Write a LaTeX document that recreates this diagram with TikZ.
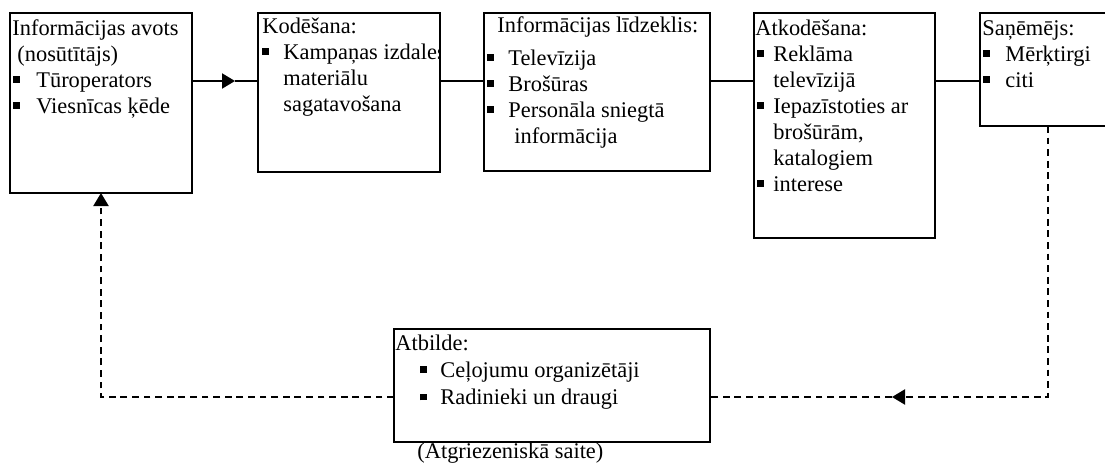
\documentclass[tikz,border=0pt]{standalone}
\usepackage{fontspec}
\setmainfont{Liberation Serif}
\usetikzlibrary{arrows.meta, calc, positioning}
\newcommand{\sqb}[1][10.5pt]{\makebox[#1][l]{\rule[2.2pt]{3.3pt}{3.3pt}}}

\begin{document}
\begin{tikzpicture}[x=0.5pt,y=-0.5pt,
  blok/.style={draw,line width=1pt,inner sep=0pt,outer sep=0pt},
  teksts/.style={anchor=base west,inner sep=0pt,font=\fontsize{11.2}{13}\selectfont},
  savieno/.style={line width=1pt},
  atgr/.style={line width=1pt,dash pattern=on 3.4pt off 2.4pt},
  >={Triangle[length=6.5pt,width=7.5pt]}]
  \useasboundingbox (0,0) rectangle (1105,467);
  \coordinate (flow) at (0,81);
  \coordinate (fb) at (0,397);
  \coordinate (flowtip) at (235,81);
  \coordinate (fbtip) at (892,397);
%---------------------------------------------------------------
  \node[blok,minimum width=91pt,minimum height=90pt] (avots) at (101,103) {};
  \node[blok,minimum width=91pt,minimum height=79.5pt] (kod) at (349,92.5) {};
  \node[blok,minimum width=113pt,minimum height=79pt] (lidz) at (597,92) {};
  \node[blok,minimum width=90.5pt,minimum height=112.5pt] (atkod) at (844.5,125.5) {};
  \node[blok,minimum width=68pt,minimum height=56.5pt] (san) at (1048,69.5) {};
  \node[blok,minimum width=158pt,minimum height=56.5pt] (atb) at (552,385.5) {};
%---------------------------------------------------------------
  \node[teksts] (avotsT) at (13,35) {\begin{tabular}[t]{@{}l@{}}
    \hspace{-0.5pt}Informācijas avots\\
    \hspace{2pt}(nosūtītājs)\\
    \sqb[11.5pt]Tūroperators\\
    \sqb[11.5pt]Viesnīcas ķēde
  \end{tabular}};
  \begin{scope}
    \clip (kod.north west) rectangle (kod.south east);
    \node[teksts] (kodT) at (262,33) {\begin{tabular}[t]{@{}l@{}}
      Kodēšana:\\
      \sqb Kampaņas izdales\\
      \hspace{10.5pt}materiālu\\
      \hspace{10.5pt}sagatavošana
    \end{tabular}};
  \end{scope}
  \node[teksts] (lidzT) at (487,32) {\begin{tabular}[t]{@{}l@{}}
    \hspace{5pt}Informācijas līdzeklis:\\[3.5pt]
    \sqb Televīzija\\
    \sqb Brošūras\\
    \sqb Personāla sniegtā\\
    \hspace{13.5pt}informācija
  \end{tabular}};
  \node[teksts] (atkodT) at (757,35) {\begin{tabular}[t]{@{}l@{}}
    \hspace{-1pt}Atkodēšana:\\
    \sqb[8pt]Reklāma\\
    \hspace{8pt}televīzijā\\
    \sqb[8pt]Iepazīstoties ar\\
    \hspace{8pt}brošūrām,\\
    \hspace{8pt}katalogiem\\
    \sqb[8pt]interese
  \end{tabular}};
  \node[teksts] (sanT) at (983,35) {\begin{tabular}[t]{@{}l@{}}
    \hspace{-0.5pt}Saņēmējs:\\
    \sqb[11pt]Mērķtirgi\\
    \sqb[11pt]citi
  \end{tabular}};
  \node[teksts] (atbT) at (395,350) {\begin{tabular}[t]{@{}l@{}}
    Atbilde:\\[0.7pt]
    \hspace{12.5pt}\sqb[10pt]Ceļojumu organizētāji\\[0.7pt]
    \hspace{12.5pt}\sqb[10pt]Radinieki un draugi
  \end{tabular}};
  \node[teksts] (saite) at (417,458) {(Atgriezeniskā saite)};
%---------------------------------------------------------------
  \draw[savieno,->] (avots.east |- flow) -- (flowtip);
  \draw[savieno] (flowtip) -- (kod.west |- flow);
  \draw[savieno] (kod.east |- flow) -- (lidz.west |- flow);
  \draw[savieno] (lidz.east |- flow) -- (atkod.west |- flow);
  \draw[savieno] (atkod.east |- flow) -- (san.west |- flow);
%---------------------------------------------------------------
  \draw[atgr,->] (san.south) |- (fbtip);
  \draw[atgr] (fbtip) -- (atb.east |- fb);
  \draw[atgr,->] (atb.west |- fb) -| (avots.south);
\end{tikzpicture}
\end{document}
